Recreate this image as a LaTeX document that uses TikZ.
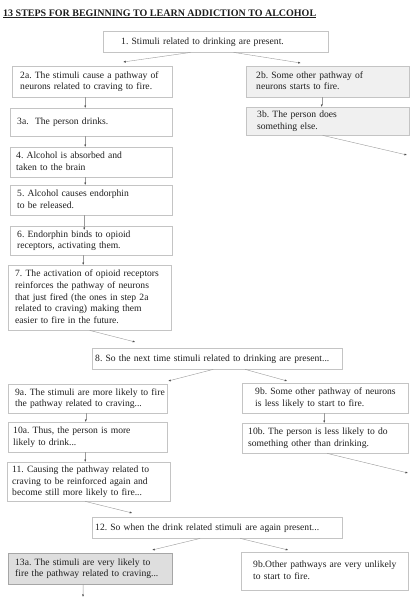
\documentclass[tikz,border=0pt]{standalone}
\usepackage{fontspec}
\setmainfont{Liberation Serif}
\usetikzlibrary{arrows.meta}

\definecolor{boxline}{HTML}{C4C4C4}
\definecolor{linec}{HTML}{9A9A9A}
\definecolor{textc}{HTML}{1E1E1E}

% one line per row, no wrapping
\newcommand{\stxt}[1]{\begin{tabular}{@{}l@{}}#1\end{tabular}}

\begin{document}
\begin{tikzpicture}[x=1pt,y=-1pt,
    bx/.style={draw=boxline,rectangle,anchor=north west,align=left,inner xsep=0pt,inner ysep=0pt,
      text=textc,font=\fontsize{9.6}{11.7}\selectfont\frenchspacing},
    sz/.style n args={3}{minimum width=#1pt,minimum height=#2pt,text width=#3pt},
    shade1/.style={fill=black!6},
    shade2/.style={fill=black!13,draw=black!35},
    arr/.style={draw=linec,line width=0.4pt,-{Latex[length=2.5pt,width=2pt,color=black!70]}}]
   \useasboundingbox (0,0) rectangle (412,600);
   \node[anchor=base west,inner sep=0pt,text=textc,font=\fontsize{10}{12}\selectfont\bfseries] (title) at (3,16)
      {\underline{13 STEPS FOR BEGINNING TO LEARN ADDICTION TO ALCOHOL}};
   % top half
   \node[bx,sz={225}{21}{189}] (n1) at (103,31) {\stxt{1. Stimuli related to drinking are present.}};
   \node[bx,sz={160}{31}{144}] (n2a) at (12,66) {\stxt{2a. The stimuli cause a pathway of\\neurons related to craving to fire.}};
   \node[bx,shade1,sz={163}{31}{143}] (n2b) at (246,66) {\stxt{2b. Some other pathway of\\neurons starts to fire.}};
   \node[bx,sz={162}{28}{148}] (n3a) at (10,108) {\stxt{3a.~ The person drinks.}};
   \node[bx,shade1,sz={163}{28}{141}] (n3b) at (246,107) {\stxt{3b. The person does\\something else.}};
   \node[bx,sz={162}{30}{150}] (n4) at (10,147) {\stxt{4. Alcohol is absorbed and\\taken to the brain}};
   \node[bx,sz={162}{30}{148}] (n5) at (10,185) {\stxt{5. Alcohol causes endorphin\\to be released.}};
   \node[bx,sz={162}{29}{148}] (n6) at (10,226) {\stxt{6. Endorphin binds to opioid\\receptors, activating them.}};
   \node[bx,sz={163}{65}{149}] (n7) at (8,265) {\stxt{7. The activation of opioid receptors\\reinforces the pathway of neurons\\that just fired (the ones in step 2a\\related to craving) making them\\easier to fire in the future.}};
   % second round
   \node[bx,sz={250}{21}{244}] (n8) at (92,348) {\stxt{8. So the next time stimuli related to drinking are present...}};
   \node[bx,sz={159}{29}{145}] (n9a) at (8,384) {\stxt{9a. The stimuli are more likely to fire\\the pathway related to craving...}};
   \node[bx,sz={166}{30}{140}] (n9b) at (242,383) {\stxt{9b. Some other pathway of neurons\\is less likely to start to fire.}};
   \node[bx,sz={159}{30}{149}] (n10a) at (8,422) {\stxt{10a. Thus, the person is more\\likely to drink...}};
   \node[bx,sz={166}{30}{154}] (n10b) at (242,423) {\stxt{10b. The person is less likely to do\\something other than drinking.}};
   \node[bx,sz={163}{39}{153}] (n11) at (7,462) {\stxt{11. Causing the pathway related to\\craving to be reinforced again and\\become still more likely to fire...}};
   \node[bx,sz={250}{21}{244}] (n12) at (92,517) {\stxt{12. So when the drink related stimuli are again present...}};
   \node[bx,shade2,sz={164}{31}{150}] (n13a) at (8,553) {\stxt{13a. The stimuli are very likely to\\fire the pathway related to craving...}};
   \node[bx,sz={167}{38}{143}] (n13b) at (241,552) {\stxt{9b.Other pathways are very unlikely\\to start to fire.}};
   % loose ends
   \coordinate (out3b) at (407,155);
   \coordinate (out10b) at (408,473);
   \coordinate (out13a) at (83,597);
   % arrows
   \draw[arr] ([xshift=-25pt]n1.south) -- ([xshift=31pt,yshift=4pt]n2a.north);
   \draw[arr] ([xshift=18pt]n1.south) -- ([xshift=-27pt,yshift=3pt]n2b.north);
   \draw[arr] ([xshift=-7pt]n2a.south) -- ([xshift=-6pt]n3a.north);
   \draw[arr] ([xshift=-6pt]n2b.south) -- ([xshift=-6pt]n3b.north);
   \draw[arr] ([xshift=-5pt]n3b.south) -- (out3b);
   \draw[arr] ([xshift=-6pt]n3a.south) -- ([xshift=-6pt]n4.north);
   \draw[arr] ([xshift=-6pt]n4.south) -- ([xshift=-6pt]n5.north);
   \draw[arr] ([xshift=-7pt]n5.south) -- ([xshift=-7pt,yshift=-4pt]n6.north);
   \draw[arr] ([xshift=-8pt]n6.south) -- ([xshift=-6.5pt]n7.north);
   \draw[arr] (n7.south) -- ([xshift=-82pt,yshift=6pt]n8.north);
   \draw[arr] ([xshift=-4pt]n8.south) -- ([xshift=80.5pt,yshift=3pt]n9a.north);
   \draw[arr] ([xshift=28pt]n8.south) -- ([xshift=-38pt,yshift=2pt]n9b.north);
   \draw[arr] ([xshift=-2pt]n9a.south) -- ([xshift=-2pt]n10a.north);
   \draw[arr] ([xshift=-1pt]n9b.south) -- ([xshift=-1pt]n10b.north);
   \draw[arr] ([xshift=2pt]n10b.south) -- (out10b);
   \draw[arr] ([xshift=-2.5pt]n10a.south) -- ([xshift=-3.5pt]n11.north);
   \draw[arr] ([xshift=-3.5pt]n11.south) -- ([xshift=-85pt,yshift=4pt]n12.north);
   \draw[arr] ([xshift=-17pt]n12.south) -- ([xshift=62pt,yshift=3pt]n13a.north);
   \draw[arr] ([xshift=23pt]n12.south) -- ([xshift=-36.5pt,yshift=2pt]n13b.north);
   \draw[arr] ([xshift=-7pt]n13a.south) -- (out13a);
\end{tikzpicture}
\end{document}
